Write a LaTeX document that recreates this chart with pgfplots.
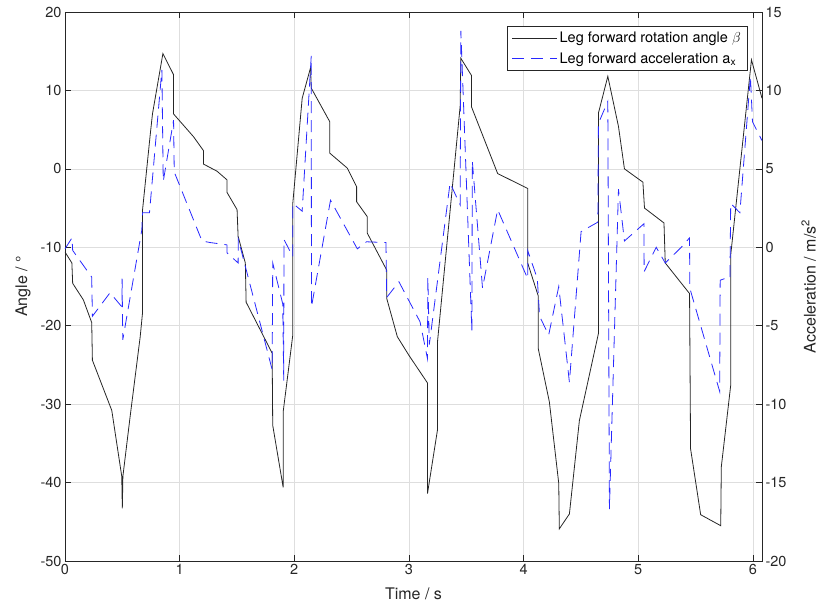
\documentclass[border=0pt]{standalone}
\usepackage{fontspec}
\setmainfont{TeX Gyre Heros}
\usepackage{pgfplots}
\pgfplotsset{compat=1.18}

\definecolor{gridgray}{RGB}{222,222,222}
\definecolor{axgray}{RGB}{38,38,38}
\definecolor{accblue}{RGB}{40,40,255}

\pgfplotsset{
  common/.style={
    scale only axis, width=697pt, height=549pt,
    xmin=0, xmax=6.08,
    axis line style={axgray, line width=0.6pt},
    tick style={axgray, line width=0.6pt},
    major tick length=6pt,
    tick align=inside,
    tick label style={font=\fontsize{14.5}{17}\selectfont, text=axgray},
    label style={font=\fontsize{16}{19}\selectfont, text=axgray},
  },
}

\begin{document}
\begin{tikzpicture}
% left axis: angle
\begin{axis}[common, name=ax,
    ymin=-50, ymax=20,
    ytick={-50,-40,-30,-20,-10,0,10,20},
    yticklabels={-50,-40,-30,-20,-10,0,10,20},
    xtick={0,1,2,3,4,5,6},
    xticklabels={0,1,2,3,4,5,6},
    ytick pos=left,
    grid=major, grid style={gridgray, line width=0.6pt},
    xlabel={Time / s}, xlabel shift=6pt,
    ylabel={Angle / °}, ylabel shift=3pt,
]
\addplot[color=axgray, line width=0.8pt] coordinates {
  (0.000,-10.6)(0.060,-12.0)(0.067,-14.6)(0.160,-16.7)(0.233,-19.6)(0.239,-24.4)
  (0.408,-30.8)(0.495,-39.2)(0.500,-43.3)(0.505,-39.2)(0.568,-31.6)(0.656,-21.4)
  (0.676,-18.4)(0.676,-5.3)(0.743,4.3)(0.763,7.0)(0.854,14.7)(0.947,12.0)
  (0.947,7.0)(1.121,4.1)(1.209,2.3)(1.209,0.6)(1.326,-0.3)(1.413,-1.4)
  (1.413,-3.0)(1.501,-5.2)(1.510,-8.6)(1.573,-12.0)(1.580,-17.0)(1.807,-23.5)
  (1.812,-32.7)(1.903,-40.6)(1.903,-31.0)(1.987,-21.2)(1.987,-4.4)(2.069,9.0)
  (2.142,12.9)(2.148,10.3)(2.310,6.0)(2.310,2.0)(2.462,0.1)(2.544,-2.3)
  (2.544,-4.2)(2.637,-6.1)(2.637,-8.2)(2.806,-12.9)(2.806,-16.5)(2.899,-21.4)
  (3.001,-23.8)(3.162,-27.3)(3.162,-41.4)(3.249,-33.3)(3.249,-22.1)(3.447,8.0)
  (3.453,14.1)(3.546,11.9)(3.546,7.9)(3.774,-0.6)(4.036,-2.5)(4.036,-12.0)
  (4.128,-16.2)(4.128,-22.9)(4.225,-29.7)(4.307,-40.1)(4.312,-45.9)(4.400,-44.0)
  (4.487,-32.1)(4.653,-21.0)(4.653,7.1)(4.735,11.8)(4.828,5.4)(4.880,0.0)
  (5.041,-1.7)(5.055,-5.0)(5.225,-6.9)(5.236,-12.0)(5.448,-15.9)(5.457,-35.7)
  (5.545,-44.1)(5.720,-45.5)(5.725,-38.0)(5.807,-27.6)(5.807,-11.0)(5.988,13.9)
  (6.080,9.0)
};
\end{axis}
% right axis: acceleration
\begin{axis}[common,
    ymin=-20, ymax=15,
    ytick={-20,-15,-10,-5,0,5,10,15},
    yticklabels={-20,-15,-10,-5,0,5,10,15},
    axis y line*=right, axis x line=none,
    ylabel={Acceleration / m/s\textsuperscript{2}}, ylabel shift=8pt,
    legend style={at={(0.980,0.9745)}, anchor=north east,
      draw=axgray, line width=0.6pt, fill=white,
      font=\fontsize{14.5}{17}\selectfont, text=black,
      inner xsep=5pt, inner ysep=4pt, row sep=4pt},
    legend cell align=left,
    legend image code/.code={\draw[#1] (0pt,0pt) -- (45pt,0pt);},
]
\addlegendimage{color=axgray, line width=0.8pt}
\addlegendentry{Leg forward rotation angle $\beta$}
\addplot[color=accblue, line width=0.8pt, dash pattern=on 12pt off 7pt] coordinates {
  (0.000,-0.1)(0.061,0.6)(0.067,-0.2)(0.233,-1.9)(0.239,-4.4)(0.393,-2.9)
  (0.496,-3.8)(0.498,-2.0)(0.504,-5.9)(0.670,1.1)(0.676,2.2)(0.737,2.2)
  (0.845,11.3)(0.857,4.2)(0.947,8.1)(0.953,4.8)(1.195,0.4)(1.267,0.3)
  (1.370,0.2)(1.413,0.15)(1.413,-0.35)(1.510,-1.0)(1.512,0.5)(1.807,-7.8)
  (1.812,-1.0)(1.899,-3.6)(1.908,-8.5)(1.910,0.5)(1.987,-0.6)(1.987,2.8)
  (2.069,2.3)(2.148,12.2)(2.150,-3.8)(2.316,3.0)(2.550,-0.1)(2.630,0.35)
  (2.800,0.3)(2.806,-3.2)(2.913,-2.2)(3.097,-4.75)(3.162,-7.1)(3.165,-1.9)
  (3.178,-6.2)(3.359,4.1)(3.447,2.7)(3.453,13.8)(3.549,-5.3)(3.553,5.5)
  (3.642,-2.6)(3.774,2.4)(4.036,-2.0)(4.036,-0.2)(4.120,-2.0)(4.140,-4.4)
  (4.219,-5.6)(4.307,-2.5)(4.400,-8.6)(4.502,1.0)(4.648,1.6)(4.653,7.9)
  (4.735,9.3)(4.749,-16.7)(4.828,3.7)(4.880,0.4)(5.050,1.5)(5.052,-1.55)
  (5.157,0.0)(5.236,-1.0)(5.376,0.0)(5.448,0.6)(5.450,-2.6)(5.711,-9.2)
  (5.715,-2.1)(5.754,-2.0)(5.800,-2.0)(5.807,2.8)(5.887,2.2)(5.979,10.9)
  (5.997,8.0)(6.080,6.8)
};
\addlegendentry{Leg forward acceleration a\textsubscript{x}}
\end{axis}
\pgfresetboundingbox
\path[use as bounding box] ([shift={(-65pt,-54pt)}]ax.south west)
  rectangle ([shift={(62pt,12pt)}]ax.north east);
\end{tikzpicture}
\end{document}
